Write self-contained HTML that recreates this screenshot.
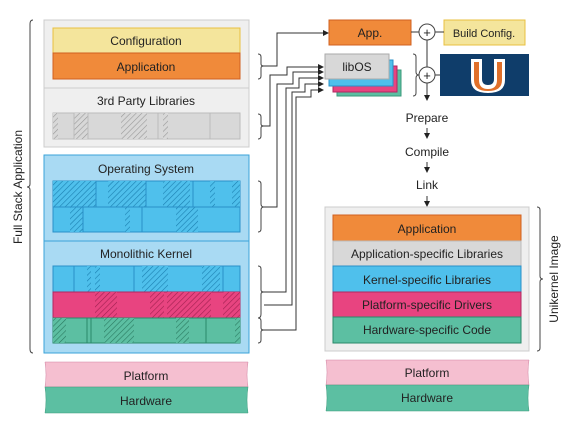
<!DOCTYPE html>
<html><head><meta charset="utf-8"><style>body{margin:0;background:#fff}svg{display:block}text{font-family:"Liberation Sans",sans-serif;font-size:12px;fill:#222}</style></head><body>
<svg width="577" height="441" viewBox="0 0 577 441" xmlns="http://www.w3.org/2000/svg">
<defs>
<pattern id="hg" width="4" height="4" patternUnits="userSpaceOnUse" patternTransform="rotate(45)"><rect width="4" height="4" fill="#d8d8d8"/><line x1="0" y1="0" x2="0" y2="4" stroke="#999" stroke-width="1.2"/></pattern>
<pattern id="hb" width="4" height="4" patternUnits="userSpaceOnUse" patternTransform="rotate(45)"><rect width="4" height="4" fill="#4fc0ec"/><line x1="0" y1="0" x2="0" y2="4" stroke="#1a7fb0" stroke-width="1.2"/></pattern>
<pattern id="hp" width="4" height="4" patternUnits="userSpaceOnUse" patternTransform="rotate(45)"><rect width="4" height="4" fill="#e84480"/><line x1="0" y1="0" x2="0" y2="4" stroke="#a02050" stroke-width="1.2"/></pattern>
<pattern id="ht" width="4" height="4" patternUnits="userSpaceOnUse" patternTransform="rotate(45)"><rect width="4" height="4" fill="#5cbfa2"/><line x1="0" y1="0" x2="0" y2="4" stroke="#2a7a60" stroke-width="1.2"/></pattern>
<marker id="ar" markerWidth="6" markerHeight="6" refX="5" refY="3" orient="auto"><path d="M0,0L6,3L0,6z" fill="#222"/></marker>
</defs>
<!-- left top grey -->
<rect x="44" y="20" width="205" height="127" fill="#efefef" stroke="#ccc"/>
<line x1="44" y1="88" x2="249" y2="88" stroke="#ccc"/>
<rect x="53" y="28" width="187" height="25" fill="#f4e59c" stroke="#e8c040"/>
<text x="146" y="45" text-anchor="middle">Configuration</text>
<rect x="53" y="53" width="187" height="26" fill="#f08a3a" stroke="#d06020"/>
<text x="146" y="71" text-anchor="middle">Application</text>
<text x="146" y="105" text-anchor="middle">3rd Party Libraries</text>
<rect x="53" y="113" width="187" height="26" fill="#d8d8d8" stroke="#bbb"/>
<g fill="url(#hg)"><rect x="53" y="113" width="5" height="26"/><rect x="74" y="113" width="14" height="26"/><rect x="121" y="113" width="26" height="26"/><rect x="163" y="113" width="5" height="26"/></g>
<g stroke="#bbb"><line x1="74" y1="113" x2="74" y2="139"/><line x1="88" y1="113" x2="88" y2="139"/><line x1="158" y1="113" x2="158" y2="139"/><line x1="210" y1="113" x2="210" y2="139"/></g>
<!-- OS box -->
<rect x="44" y="155" width="205" height="198" fill="#a9daf3" stroke="#3aa3d8"/>
<line x1="44" y1="241" x2="249" y2="241" stroke="#3aa3d8"/>
<text x="146" y="173" text-anchor="middle">Operating System</text>
<rect x="53" y="181" width="187" height="51" fill="#4fc0ec" stroke="#2a90c8"/>
<g fill="url(#hb)"><rect x="53" y="181" width="43" height="26"/><rect x="108" y="181" width="38" height="26"/><rect x="163" y="181" width="27" height="26"/><rect x="210" y="181" width="5" height="26"/><rect x="232" y="181" width="8" height="26"/><rect x="70" y="207" width="13" height="25"/><rect x="125" y="207" width="5" height="25"/><rect x="176" y="207" width="22" height="25"/></g>
<g stroke="#2a90c8"><line x1="53" y1="207" x2="240" y2="207"/><line x1="96" y1="181" x2="96" y2="207"/><line x1="146" y1="181" x2="146" y2="207"/><line x1="193" y1="181" x2="193" y2="207"/><line x1="83" y1="207" x2="83" y2="232"/><line x1="142" y1="207" x2="142" y2="232"/></g>
<text x="146" y="258" text-anchor="middle">Monolithic Kernel</text>
<rect x="53" y="266" width="187" height="26" fill="#4fc0ec" stroke="#2a90c8"/>
<g fill="url(#hb)"><rect x="87" y="266" width="4" height="26"/><rect x="95" y="266" width="5" height="26"/><rect x="142" y="266" width="26" height="26"/><rect x="202" y="266" width="18" height="26"/></g>
<g stroke="#2a90c8"><line x1="74" y1="266" x2="74" y2="292"/><line x1="134" y1="266" x2="134" y2="292"/><line x1="223" y1="266" x2="223" y2="292"/></g>
<rect x="53" y="292" width="187" height="26" fill="#e84480" stroke="#b02860"/>
<g fill="url(#hp)"><rect x="95" y="292" width="22" height="26"/><rect x="150" y="292" width="14" height="26"/><rect x="167" y="292" width="44" height="26"/><rect x="223" y="292" width="17" height="26"/></g>
<rect x="53" y="318" width="187" height="25" fill="#5cbfa2" stroke="#2a8a6a"/>
<g fill="url(#ht)"><rect x="53" y="318" width="13" height="25"/><rect x="104" y="318" width="30" height="25"/><rect x="176" y="318" width="13" height="25"/><rect x="235" y="318" width="5" height="25"/></g>
<g stroke="#2a8a6a"><line x1="87" y1="318" x2="87" y2="343"/><line x1="91" y1="318" x2="91" y2="343"/><line x1="206" y1="318" x2="206" y2="343"/></g>
<!-- platform/hardware left -->
<path d="M45,362 H248 Q246,375 248,387 H45 Q47,375 45,362z" fill="#f5bfd0" stroke="#d080a0" stroke-width="0.5"/>
<path d="M45,387 H248 Q246,400 248,413 H45 Q47,400 45,387z" fill="#5cbfa2" stroke="#3a9a7a" stroke-width="0.5"/>
<text x="146" y="380" text-anchor="middle">Platform</text>
<text x="146" y="405" text-anchor="middle">Hardware</text>
<!-- full stack bracket -->
<path d="M33,20 Q30,20 30,24 V184 Q30,187 27,187 Q30,187 30,190 V349 Q30,353 33,353" fill="none" stroke="#444"/>
<text transform="translate(22,187) rotate(-90)" text-anchor="middle">Full Stack Application</text>
<!-- small brackets -->
<g fill="none" stroke="#444">
<path d="M258,54 Q261,54 261,57 V64 Q261,66 264,66 Q261,66 261,68 V76 Q261,79 258,79"/>
<path d="M258,114 Q261,114 261,117 V124 Q261,126 264,126 Q261,126 261,128 V136 Q261,139 258,139"/>
<path d="M258,181 Q261,181 261,184 V204 Q261,207 264,207 Q261,207 261,210 V229 Q261,232 258,232"/>
<path d="M258,266 Q261,266 261,269 V290 Q261,292 264,292 Q261,292 261,294 V314 Q261,318 258,318"/>
<path d="M258,318 Q261,318 261,321 V328 Q261,330 264,330 Q261,330 261,332 V340 Q261,343 258,343"/>
</g>
<!-- connectors -->
<g fill="none" stroke="#333" stroke-width="1">
<path d="M264,66 H277 V33 H328" marker-end="url(#ar)"/>
<path d="M264,126 H270 V75 H287 V67 H323" marker-end="url(#ar)"/>
<path d="M264,207 H277 V84 H293 V72 H323" marker-end="url(#ar)"/>
<path d="M264,292 H286 V88 H299 V78 H323" marker-end="url(#ar)"/>
<path d="M264,305 H292 V92 H305 V84 H323" marker-end="url(#ar)"/>
<path d="M264,330 H296 V97 H311 V90 H323" marker-end="url(#ar)"/>
</g>
<!-- right top -->
<rect x="329" y="20" width="82" height="25" fill="#f08a3a" stroke="#d06020"/>
<text x="370" y="37" text-anchor="middle">App.</text>
<rect x="444" y="20" width="81" height="25" fill="#f4e59c" stroke="#e8c040"/>
<text x="484" y="37" text-anchor="middle" style="font-size:11px">Build Config.</text>
<line x1="411" y1="32" x2="444" y2="32" stroke="#333"/>
<line x1="427" y1="40" x2="427" y2="100" stroke="#333" marker-end="url(#ar)"/>
<circle cx="427" cy="32" r="8" fill="#fff" stroke="#444"/><text x="427" y="37" text-anchor="middle" style="font-size:13px">+</text>
<rect x="337" y="70" width="64" height="26" fill="#5cbfa2" stroke="#3a9a7a"/>
<rect x="333" y="66" width="64" height="26" fill="#e84480" stroke="#b02860"/>
<rect x="329" y="60" width="64" height="26" fill="#4fc0ec" stroke="#2a90c8"/>
<rect x="325" y="54" width="64" height="25" fill="#d8d8d8" stroke="#aaa"/>
<text x="357" y="71" text-anchor="middle">libOS</text>
<path d="M413,54 Q416,54 416,57 V72 Q416,75 419,75 Q416,75 416,78 V93 Q416,96 413,96" fill="none" stroke="#444"/>
<line x1="419" y1="75" x2="440" y2="75" stroke="#333"/>
<circle cx="427" cy="75" r="8" fill="#fff" stroke="#444"/><text x="427" y="80" text-anchor="middle" style="font-size:13px">+</text>
<rect x="440" y="54" width="89" height="42" fill="#0f3d6a"/>
<path d="M471,59 h11 v20 q0,6 6,6 q6,0 6,-6 v-20 h11 v21 q0,13 -17,13 q-17,0 -17,-13z" fill="#fff"/>
<path d="M474,62 h5 v18 q0,9 9,9 q9,0 9,-9 v-18 h5 v18 q0,11 -14,11 q-14,0 -14,-11z" fill="#e0702a"/>
<text x="427" y="122" text-anchor="middle">Prepare</text>
<line x1="427" y1="128" x2="427" y2="138" stroke="#333" marker-end="url(#ar)"/>
<text x="427" y="156" text-anchor="middle">Compile</text>
<line x1="427" y1="162" x2="427" y2="172" stroke="#333" marker-end="url(#ar)"/>
<text x="427" y="189" text-anchor="middle">Link</text>
<line x1="427" y1="196" x2="427" y2="206" stroke="#333" marker-end="url(#ar)"/>
<!-- unikernel -->
<rect x="325" y="207" width="204" height="144" fill="#efefef" stroke="#ccc"/>
<rect x="333" y="215" width="188" height="26" fill="#f08a3a" stroke="#d06020"/>
<rect x="333" y="241" width="188" height="25" fill="#d8d8d8" stroke="#bbb"/>
<rect x="333" y="266" width="188" height="26" fill="#4fc0ec" stroke="#2a90c8"/>
<rect x="333" y="292" width="188" height="25" fill="#e84480" stroke="#b02860"/>
<rect x="333" y="317" width="188" height="26" fill="#5cbfa2" stroke="#2a8a6a"/>
<text x="427" y="233" text-anchor="middle">Application</text>
<text x="427" y="258" text-anchor="middle">Application-specific Libraries</text>
<text x="427" y="284" text-anchor="middle">Kernel-specific Libraries</text>
<text x="427" y="309" text-anchor="middle">Platform-specific Drivers</text>
<text x="427" y="334" text-anchor="middle">Hardware-specific Code</text>
<path d="M537,207 Q540,207 540,210 V276 Q540,279 543,279 Q540,279 540,282 V348 Q540,351 537,351" fill="none" stroke="#444"/>
<text transform="translate(558,279) rotate(-90)" text-anchor="middle">Unikernel Image</text>
<path d="M326,360 H529 Q527,372 529,385 H326 Q328,372 326,360z" fill="#f5bfd0" stroke="#d080a0" stroke-width="0.5"/>
<path d="M326,385 H529 Q527,398 529,411 H326 Q328,398 326,385z" fill="#5cbfa2" stroke="#3a9a7a" stroke-width="0.5"/>
<text x="427" y="377" text-anchor="middle">Platform</text>
<text x="427" y="402" text-anchor="middle">Hardware</text>
</svg>
</body></html>
